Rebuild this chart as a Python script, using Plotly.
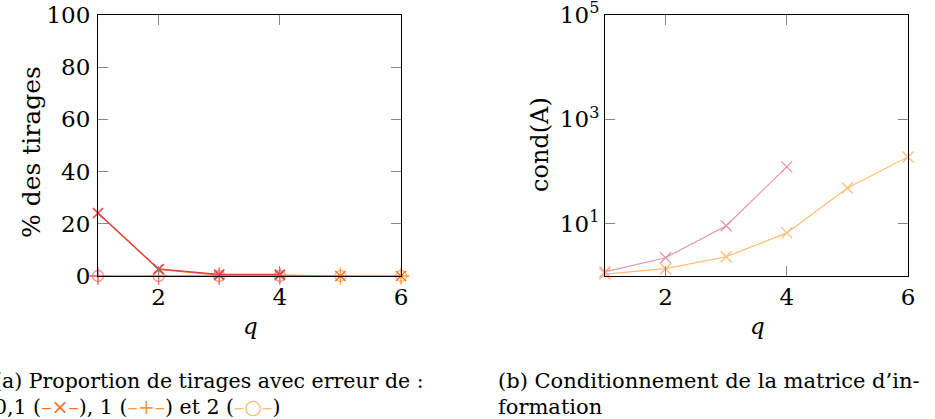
import plotly.graph_objects as go

# ---------------- data ----------------
q_pink = [1, 2, 3, 4]
q_orange = [1, 2, 3, 4, 5, 6]

# left panel: % des tirages (erreur 0,1 / 1 / 2)
pink_err01 = [24.2, 2.7, 0.6, 0.6]
pink_err1 = [0, 0, 0, 0]
pink_err2 = [0, 0, 0, 0]
orange_err01 = [24.0, 2.5, 0.3, 0.3, 0, 0]
orange_err1 = [0, 0, 0, 0, 0, 0]
orange_err2 = [0, 0, 0, 0, 0, 0]

# right panel: cond(A)
pink_cond = [1.2, 2.24, 9.2, 123]
orange_cond = [1.09, 1.38, 2.34, 6.7, 48.7, 191]

left_yticks = [0, 20, 40, 60, 80, 100]
x_ticks = [2, 4, 6]
right_yticks = [10, 1000, 100000]
right_yticktext = ["10<sup>1</sup>", "10<sup>3</sup>", "10<sup>5</sup>"]

FONT = "DejaVu Serif"
W, H = 935, 419

fig = go.Figure()

def add(x, y, color, symbol, xa, ya, size=10):
    fig.add_trace(go.Scatter(
        x=x, y=y, mode="lines+markers", xaxis=xa, yaxis=ya,
        line=dict(color=color, width=1.2),
        marker=dict(symbol=symbol, size=size, color=color,
                    line=dict(color=color, width=1.3)),
        cliponaxis=False, showlegend=False, hoverinfo="skip"))

# left panel traces (light first, dark last)
add(q_orange, orange_err2, "#ffb870", "circle-open", "x", "y", 11)
add(q_orange, orange_err1, "#ff9a30", "cross-thin-open", "x", "y", 12)
add(q_pink, pink_err2, "#f29aa2", "circle-open", "x", "y", 11)
add(q_pink, pink_err1, "#e87080", "cross-thin-open", "x", "y", 12)
add(q_orange, orange_err01, "#f07018", "x-thin-open", "x", "y", 10)
add(q_pink, pink_err01, "#d94050", "x-thin-open", "x", "y", 10)

# right panel traces
add(q_pink, pink_cond, "#e595a8", "x-thin-open", "x2", "y2", 11)
add(q_orange, orange_cond, "#ffbb70", "x-thin-open", "x2", "y2", 11)

ydom = [1 - 276 / H, 1 - 15 / H]
axis_common = dict(
    showgrid=False, zeroline=False, showline=True, linecolor="black",
    linewidth=1, mirror="ticks", ticks="inside", ticklen=10,
    tickcolor="#888888", tickwidth=1, automargin=False,
    ticklabeloverflow="allow",
    tickfont=dict(family=FONT, size=23, color="black"),
)

fig.update_layout(
    width=W, height=H,
    margin=dict(l=0, r=0, t=0, b=0, autoexpand=False),
    paper_bgcolor="white", plot_bgcolor="white",
    font=dict(family=FONT, size=23, color="black"),
    xaxis=dict(domain=[98 / W, 401 / W], range=[1, 6], tickvals=x_ticks,
               anchor="y", **axis_common),
    yaxis=dict(domain=ydom, range=[0, 100], tickvals=left_yticks,
               anchor="x", ticklabelstandoff=2, **axis_common),
    xaxis2=dict(domain=[605 / W, 908 / W], range=[1, 6], tickvals=x_ticks,
                anchor="y2", **axis_common),
    yaxis2=dict(domain=ydom, type="log", range=[0, 5], tickvals=right_yticks,
                ticktext=right_yticktext, anchor="x2", **axis_common),
)

def ann(text, x, y, size=23, angle=0, xanchor="center", yanchor="middle", align="center"):
    fig.add_annotation(text=text, x=x / W, y=1 - y / H, xref="paper", yref="paper",
                       showarrow=False, textangle=angle, xanchor=xanchor,
                       yanchor=yanchor, align=align,
                       font=dict(family=FONT, size=size, color="black"))

# axis titles
ann("% des tirages", 31, 152, size=25, angle=-90)
ann("cond(A)", 540, 145, size=24, angle=-90)
ann("<i>q</i>", 250, 326)
ann("<i>q</i>", 757, 326)

# captions
ann("(a) Proportion de tirages avec erreur de :", -8, 381, size=20.5, xanchor="left")
ann("0,1 (<span style='color:#f07018'>–×–</span>), 1 (<span style='color:#ff9a30'>–+–</span>) "
    "et 2 (<span style='color:#ffb870'>–○–</span>)", -8, 407, size=20.5, xanchor="left")
ann("(b) Conditionnement de la matrice d’in-", 496, 381, size=21, xanchor="left")
ann("formation", 496, 407, size=21, xanchor="left")

fig.write_html("out.html", config={"displayModeBar": False},
               post_script="document.body.style.margin='0';document.body.style.overflow='hidden';")
